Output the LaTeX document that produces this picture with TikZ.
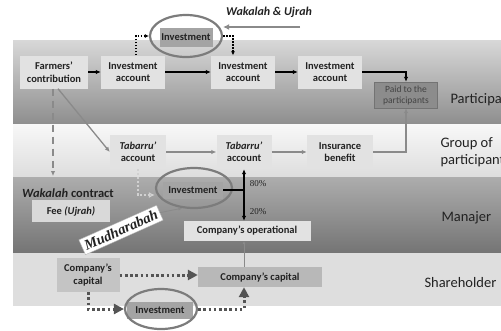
\documentclass[tikz,border=0pt]{standalone}
\usepackage{fontspec}
\setmainfont{Carlito}
\newfontfamily\pctfont{Liberation Serif}
\usetikzlibrary{arrows.meta,shapes.geometric}

\definecolor{parttop}{HTML}{D8D8D8}
\definecolor{partbot}{HTML}{8E8E8E}
\definecolor{grouptop}{HTML}{F8F8F8}
\definecolor{groupbot}{HTML}{DDDDDD}
\definecolor{mantop}{HTML}{ADADAD}
\definecolor{manbot}{HTML}{747474}
\definecolor{sharefill}{HTML}{DEDEDE}
\definecolor{boxlight}{HTML}{E2E2E2}
\definecolor{boxmid}{HTML}{B8B8B8}
\definecolor{boxdark}{HTML}{A4A4A4}
\definecolor{paidfill}{HTML}{8C8C8C}
\definecolor{ringgray}{HTML}{7C7C7C}
\definecolor{flowgray}{HTML}{8A8A8A}
\definecolor{dotgray}{HTML}{545454}
\definecolor{inkgray}{HTML}{222222}

\tikzset{
  acct/.style={fill=boxlight, text=inkgray, font=\bfseries\fontsize{10.5}{12.5}\selectfont,
    align=center, inner sep=1pt, minimum width=64pt, minimum height=33pt},
  paidbox/.style={fill=paidfill, draw=white!45!black, text=inkgray!85, font=\fontsize{9.5}{11}\selectfont,
    align=center, inner sep=1pt, minimum width=63pt, minimum height=26pt},
  invbox/.style={fill=boxdark, text=inkgray, font=\bfseries\fontsize{10.5}{12}\selectfont,
    inner sep=1pt, minimum width=60pt, minimum height=17pt},
  invring/.style={ellipse, draw=ringgray, line width=2.2pt, minimum width=#1, minimum height=40pt},
  bandlabel/.style={anchor=west, align=left, text=inkgray, font=\fontsize{14.5}{17}\selectfont},
  pct/.style={text=inkgray, font=\pctfont\fontsize{9}{10}\selectfont, inner sep=0pt},
  mudtag/.style={fill=white, draw=white!70!black, text=inkgray, rotate=24, inner sep=3pt,
    font=\pctfont\bfseries\itshape\fontsize{14.5}{15}\selectfont},
  flow/.style={-{Latex[length=5pt,width=4.5pt]}, line width=1.3pt},
  grayflow/.style={flow, draw=flowgray},
  twoway/.style={{Latex[length=5pt,width=4.5pt]}-{Latex[length=5pt,width=4.5pt]}, line width=1.3pt},
  topdot/.style={-{Latex[length=4pt,width=4pt]}, line width=1.4pt, dash pattern=on 1.5pt off 1.5pt},
  lightdot/.style={-{Latex[open,length=6pt,width=6pt]}, draw=white!82!black, line width=2pt,
    dash pattern=on 2pt off 2pt},
  dotflow/.style={-{Triangle[length=10pt,width=10pt]}, draw=dotgray, line width=3pt,
    dash pattern=on 2.6pt off 2.6pt},
}

\begin{document}
\begin{tikzpicture}[x=1pt,y=-1pt]
  \useasboundingbox (0,0) rectangle (501,330);

  % Bands:
  \shade[top color=parttop, bottom color=partbot] (13,40) rectangle (501,124);
  \shade[top color=grouptop, bottom color=groupbot] (13,124) rectangle (501,177);
  \draw[white!55!black, line width=0.8pt] (13,177) -- (501,177);
  \shade[top color=mantop, bottom color=manbot] (13,177) rectangle (501,253);
  \fill[sharefill] (13,253) rectangle (501,306);

  % Participants:
  \begin{scope}
    \node[acct, minimum width=68pt] (farm) at (54,72) {Farmers'\\contribution};
    \node[acct] (inva) at (133,72) {Investment\\account};
    \node[acct] (invb) at (243,72) {Investment\\account};
    \node[acct] (invc) at (330,72) {Investment\\account};
    \node[paidbox] (paid) at (406,95) {Paid to the\\participants};
    \node[bandlabel] (lpart) at (447,100) {Participants};

    % the investment above the band
    \node[invbox, minimum width=53pt, minimum height=19pt] (topinv) at (186,37) {Investment};
    \node[invring=72pt, minimum height=42pt] (topring) at (186,36) {};
    \node[text=inkgray, font=\bfseries\itshape\fontsize{12}{14}\selectfont] (wktitle) at (269,12) {Wakalah \& Ujrah};
    \coordinate (wkline) at (300,27);
    \draw[-{Latex[length=6pt,width=6pt]}, draw=flowgray, line width=2pt] (wkline) -- (topring.east |- wkline);

    \draw[topdot] ([xshift=3pt]inva.north) |- (topring.west);
    \draw[topdot] (topring.east) -| ([xshift=-10pt]invb.north);

    \draw[flow] (farm) -- (inva);
    \draw[flow] (inva) -- (invb);
    \draw[flow] (invb) -- (invc);
    \draw[flow] (invc.east) -| (paid.north);
  \end{scope}

  % Group of participants:
  \begin{scope}
    \node[acct, minimum width=56pt, minimum height=34pt] (taba) at (138,152) {\textit{Tabarru'}\\account};
    \node[acct, minimum width=55pt, minimum height=34pt] (tabb) at (244,152) {\textit{Tabarru'}\\account};
    \node[acct, minimum width=66pt, minimum height=34pt] (benefit) at (340,152) {Insurance\\benefit};
    \node[bandlabel] (lgroup) at (437,152) {Group of\\participants};

    \draw[grayflow] (taba) -- (tabb);
    \draw[grayflow] (tabb) -- (benefit);
    \draw[grayflow] (benefit.east) -| (paid.south);
    \draw[grayflow] ([xshift=4pt]farm.south) -- (taba.west);
    \coordinate (wakin) at (53,176);
    \draw[grayflow, line width=1.6pt, dash pattern=on 7pt off 5pt] ([xshift=-1pt]farm.south) -- (wakin);
  \end{scope}

  % Manajer:
  \begin{scope}
    \node[text=inkgray, font=\bfseries\fontsize{12.5}{14}\selectfont] (wakcon) at (68,193) {\textit{Wakalah} contract};
    \node[acct, fill=white!85!black, minimum width=78pt, minimum height=22pt] (fee) at (71,211) {Fee \textit{(Ujrah)}};
    \node[invbox] (midinv) at (193,190) {Investment};
    \node[invring=76pt] (midring) at (194,188) {};
    \node[acct, minimum width=127pt, minimum height=20pt] (ops) at (247,231) {Company's operational};
    \node[mudtag] (mud) at (121,230) {Mudharabah};
    \node[bandlabel] (lman) at (438,218) {Manajer};

    \draw[twoway] (tabb.south) -- (tabb.south |- ops.north);
    \draw[line width=1.3pt] (midinv.east) -- (midinv.east -| tabb.south);
    \node[pct] (pcta) at (258,184) {80\%};
    \node[pct] (pctb) at (258,212) {20\%};
    \draw[lightdot] (taba.south) |- ([yshift=-7pt]midring.west);
    \draw[grayflow, line width=0.8pt, -{Latex[length=4pt,width=3.5pt]}] (mud.east) -- (midring.240);
  \end{scope}

  % Shareholder:
  \begin{scope}
    \node[acct, fill=white!77!black, minimum width=63pt, minimum height=34pt] (capa) at (88,275) {Company's\\capital};
    \node[acct, fill=boxmid, minimum width=124pt, minimum height=20pt] (capb) at (260,277) {Company's capital};
    \node[invbox, minimum width=66pt] (botinv) at (160,310) {Investment};
    \node[invring=72pt] (botring) at (161,309) {};
    \node[bandlabel] (lshare) at (421,283) {Shareholder};

    \draw[dotflow] (capa.east) -- (capa.east -| capb.west);
    \draw[dotflow] (capa.south) |- (botring.west);
    \draw[dotflow] (botring.east) -| ([xshift=-16pt]capb.south);
    \draw[draw=flowgray, line width=0.8pt, -{Latex[length=3pt,width=3pt]}]
      ([xshift=-16pt]capb.north) -- ([xshift=-16pt]capb.north |- ops.south);
  \end{scope}
\end{tikzpicture}
\end{document}
